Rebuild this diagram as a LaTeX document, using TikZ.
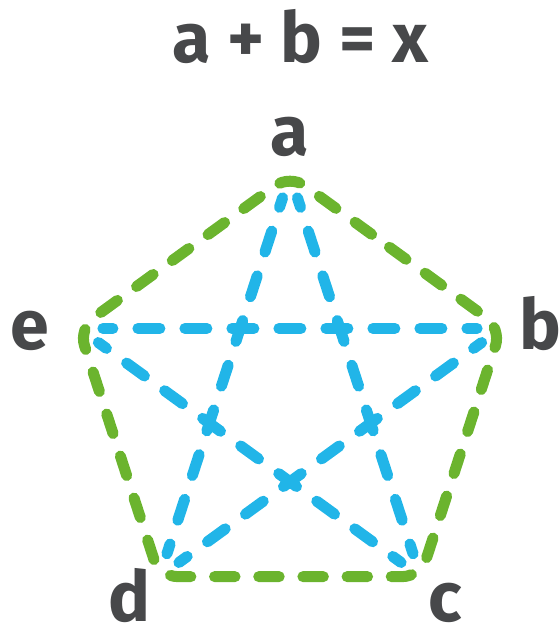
\documentclass[tikz,border=0pt]{standalone}
\usepackage{fontspec}
\setmainfont{Fira Sans}
\usetikzlibrary{calc}
\definecolor{inkgray}{HTML}{47484A}
\definecolor{pgreen}{HTML}{6BB42E}
\definecolor{pblue}{HTML}{21B5E8}
\begin{document}
\begin{tikzpicture}[x=1pt,y=-1pt,
  lbl/.style={text=inkgray,font=\fontsize{70}{84}\selectfont\bfseries,anchor=base,inner sep=0pt},
  starline/.style={draw=pblue,line width=11pt,line cap=round,dash pattern=on 22pt off 25pt,dash phase=12pt},
  penta/.style={draw=pgreen,line width=11pt,line cap=round,rounded corners=18pt,dash pattern=on 20.5pt off 23.67pt,dash phase=32.66pt}]
\useasboundingbox (0,0) rectangle (560,630);
% regular pentagon, R=222, centre (290,397)
\coordinate (pa) at (290,175);
\coordinate (pb) at (501.1,328.4);
\coordinate (pc) at (420.5,576.6);
\coordinate (pd) at (159.5,576.6);
\coordinate (pe) at (78.9,328.4);
\coordinate (pm) at ($(pb)!0.5!(pa)$);
% green pentagon
\draw[penta] (pm) -- (pa) -- (pe) -- (pd) -- (pc) -- (pb) -- cycle;
% blue star, each chord shortened at both ends
\draw[starline] ($(pa)!24pt!(pc)$) -- ($(pc)!24pt!(pa)$);
\draw[starline] ($(pa)!24pt!(pd)$) -- ($(pd)!24pt!(pa)$);
\draw[starline] ($(pe)!24pt!(pb)$) -- ($(pb)!24pt!(pe)$);
\draw[starline] ($(pe)!24pt!(pc)$) -- ($(pc)!24pt!(pe)$);
\draw[starline] ($(pb)!24pt!(pd)$) -- ($(pd)!24pt!(pb)$);
\node[lbl] (title) at (300,62) {a + b = x};
\node[lbl] (la) at (290,155) {a};
\node[lbl] (lb) at (540,349) {b};
\node[lbl] (le) at (30,349) {e};
\node[lbl] (ld) at (129,621) {d};
\node[lbl] (lc) at (445,621) {c};
\end{tikzpicture}
\end{document}
